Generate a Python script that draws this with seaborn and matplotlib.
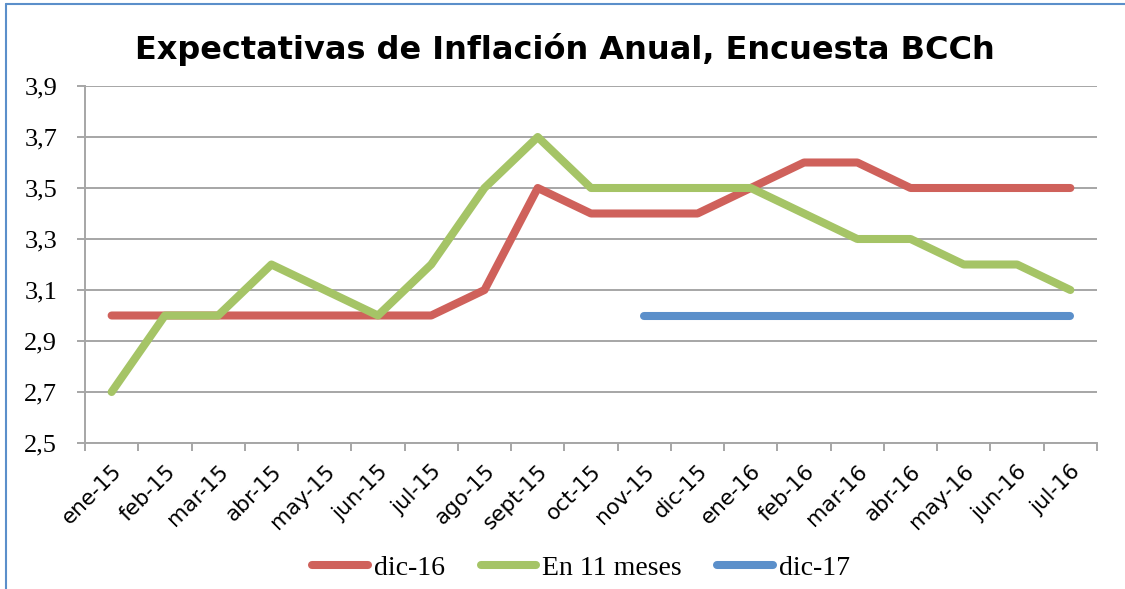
import numpy as np
import pandas as pd
import matplotlib
matplotlib.use("Agg")
import matplotlib.pyplot as plt
from matplotlib.lines import Line2D
from matplotlib.ticker import FixedLocator, FuncFormatter
import seaborn as sns

meses = ["ene-15", "feb-15", "mar-15", "abr-15", "may-15", "jun-15", "jul-15",
         "ago-15", "sept-15", "oct-15", "nov-15", "dic-15", "ene-16", "feb-16",
         "mar-16", "abr-16", "may-16", "jun-16", "jul-16"]
dic16 = [3.0, 3.0, 3.0, 3.0, 3.0, 3.0, 3.0, 3.1, 3.5, 3.4, 3.4, 3.4, 3.5, 3.6,
         3.6, 3.5, 3.5, 3.5, 3.5]
en11 = [2.7, 3.0, 3.0, 3.2, 3.1, 3.0, 3.2, 3.5, 3.7, 3.5, 3.5, 3.5, 3.5, 3.4,
        3.3, 3.3, 3.2, 3.2, 3.1]
dic17 = [np.nan] * 10 + [3.0] * 9

series = [("dic-16", dic16, "#CF615B"),
          ("En 11 meses", en11, "#A5C466"),
          ("dic-17", dic17, "#5B8FCA")]

sns.set_style("white")
plt.rcParams["font.family"] = ["DejaVu Sans"]
plt.rcParams["text.color"] = "black"
plt.rcParams["xtick.labelcolor"] = "black"
plt.rcParams["ytick.labelcolor"] = "black"

fig = plt.figure(figsize=(11.25, 5.89), dpi=100)
ax = fig.add_axes([85 / 1125, 1 - 443 / 589, (1097 - 85) / 1125, (443 - 86) / 589])

x = np.arange(len(meses))
for name, vals, color in series:
    df = pd.DataFrame({"x": x, "y": vals}).dropna()
    sns.lineplot(data=df, x="x", y="y", ax=ax, color=color, linewidth=5.8,
                 label=name, solid_capstyle="round", solid_joinstyle="round",
                 zorder=3)

ax.set_xlim(-0.5, len(meses) - 0.5)
ax.set_ylim(2.5, 3.9)
ax.set_xlabel("")
ax.set_ylabel("")

yt = [2.5, 2.7, 2.9, 3.1, 3.3, 3.5, 3.7, 3.9]
ax.yaxis.set_major_locator(FixedLocator(yt))
ax.yaxis.set_major_formatter(FuncFormatter(lambda v, p: f"{v:.1f}".replace(".", ",")))
ax.grid(axis="y", color="#A6A6A6", linewidth=1.4)
ax.grid(axis="x", visible=False)

ax.set_xticks(x)
ax.set_xticklabels(meses, rotation=45, ha="right", va="top",
                   rotation_mode="anchor", fontsize=15.5, family="DejaVu Sans",
                   color="black")
ax.set_xticks(np.arange(-0.5, len(meses)), minor=True)
ax.tick_params(axis="x", which="major", length=0, pad=13)
ax.tick_params(axis="x", which="minor", length=6, width=1.4, color="#A6A6A6",
               direction="out", bottom=True)
ax.tick_params(axis="y", length=6, width=1.4, color="#A6A6A6", direction="out",
               left=True, pad=14)
for lbl in ax.get_yticklabels():
    lbl.set_family("Liberation Serif")
    lbl.set_fontsize(19)
    lbl.set_color("black")

for s in ["top", "right"]:
    ax.spines[s].set_visible(False)
for s in ["left", "bottom"]:
    ax.spines[s].set_color("#A6A6A6")
    ax.spines[s].set_linewidth(1.4)

ax.get_legend().remove()
handles = [Line2D([0], [0], color=c, linewidth=5.8, solid_capstyle="round")
           for _, _, c in series]
fig.legend(handles, [n for n, _, _ in series], loc="center",
           bbox_to_anchor=(581 / 1125, 1 - 568 / 589), ncol=3, frameon=False,
           handlelength=2.0, handletextpad=0.2, columnspacing=1.3,
           prop={"family": "Liberation Serif", "size": 20})

fig.text(0.502, 1 - 50 / 589, "Expectativas de Inflación Anual, Encuesta BCCh",
         ha="center", va="center", fontsize=23, fontweight="bold",
         family="DejaVu Sans", color="black")

fig.add_artist(Line2D([6 / 1125, 6 / 1125], [0, 1 - 4 / 589], color="#5B8FCA",
                      linewidth=1.5, transform=fig.transFigure))
fig.add_artist(Line2D([6 / 1125, 1], [1 - 4 / 589, 1 - 4 / 589], color="#5B8FCA",
                      linewidth=1.5, transform=fig.transFigure))

fig.savefig("out.png", dpi=100)
